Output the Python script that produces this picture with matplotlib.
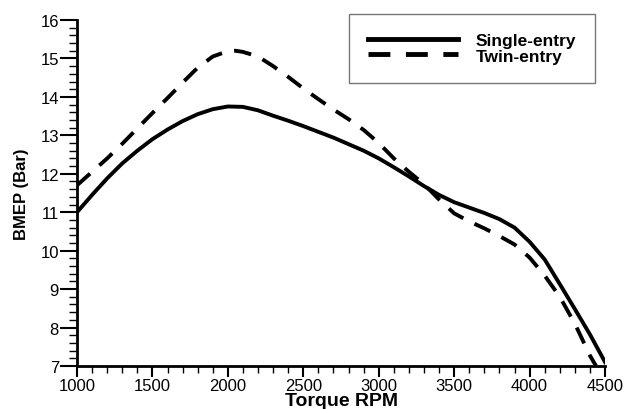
import matplotlib
matplotlib.use("Agg")
import matplotlib.pyplot as plt
from matplotlib.ticker import MultipleLocator

plt.rcParams["font.family"] = ["Liberation Sans", "DejaVu Sans"]

# values
rpm_single = [1000, 1100, 1200, 1300, 1400, 1500, 1600, 1700, 1800, 1900,
              2000, 2100, 2200, 2300, 2400, 2500, 2600, 2700, 2800, 2900,
              3000, 3100, 3200, 3300, 3400, 3500, 3600, 3700, 3800, 3900,
              4000, 4100, 4200, 4300, 4400, 4500]
bmep_single = [11.0, 11.45, 11.88, 12.27, 12.6, 12.9, 13.15, 13.37, 13.55, 13.68,
               13.75, 13.74, 13.65, 13.51, 13.38, 13.24, 13.09, 12.94, 12.77, 12.6,
               12.4, 12.17, 11.93, 11.68, 11.45, 11.26, 11.12, 10.98, 10.82, 10.6,
               10.23, 9.77, 9.13, 8.48, 7.82, 7.1]

rpm_twin = [1000, 1100, 1200, 1300, 1400, 1500, 1600, 1700, 1800, 1900,
            2000, 2050, 2100, 2200, 2300, 2400, 2500, 2600, 2700, 2800,
            2900, 3000, 3100, 3200, 3300, 3400, 3500, 3600, 3700, 3800,
            3900, 4000, 4100, 4200, 4300, 4400, 4440]
bmep_twin = [11.7, 12.05, 12.4, 12.78, 13.18, 13.58, 13.97, 14.37, 14.76, 15.05,
             15.19, 15.2, 15.17, 15.05, 14.8, 14.52, 14.22, 13.94, 13.67, 13.42,
             13.14, 12.8, 12.4, 12.05, 11.73, 11.33, 10.97, 10.76, 10.58, 10.38,
             10.16, 9.82, 9.35, 8.8, 8.1, 7.27, 7.0]

fig = plt.figure(figsize=(6.27, 4.10), dpi=100)
ax = fig.add_axes([0.1228, 0.1049, 0.8422, 0.8439])

ax.plot(rpm_single, bmep_single, color="black", lw=2.8, label="Single-entry")
ax.plot(rpm_twin, bmep_twin, color="black", lw=2.8, dashes=(4.5, 3.2), label="Twin-entry")

ax.set_xlim(1000, 4500)
ax.set_ylim(7, 16)
ax.xaxis.set_major_locator(MultipleLocator(500))
ax.xaxis.set_minor_locator(MultipleLocator(100))
ax.yaxis.set_major_locator(MultipleLocator(1))
ax.yaxis.set_minor_locator(MultipleLocator(0.2))

for side in ("top", "right"):
    ax.spines[side].set_visible(False)
for side in ("left", "bottom"):
    ax.spines[side].set_linewidth(2)

ax.tick_params(axis="y", which="major", length=12, width=1.5, labelsize=12, pad=1)
ax.tick_params(axis="y", which="minor", length=6, width=1)
ax.tick_params(axis="x", which="major", length=8, width=1.5, labelsize=12, pad=1)
ax.tick_params(axis="x", which="minor", length=5, width=1)

ax.set_xlabel("Torque RPM", fontsize=14, fontweight="bold", labelpad=-1)
ax.set_ylabel("BMEP (Bar)", fontsize=12, fontweight="bold", labelpad=8)

leg = ax.legend(loc="upper right", bbox_to_anchor=(0.949, 0.963),
                bbox_transform=fig.transFigure,
                prop={"weight": "bold", "size": 12.5}, frameon=True, fancybox=False,
                handlelength=5.2, borderpad=1.1, labelspacing=0.0,
                borderaxespad=0, handletextpad=1.0)
leg.get_frame().set_edgecolor("#555555")
leg.get_frame().set_linewidth(1)
for line in leg.get_lines():
    line.set_linewidth(3.5)

fig.savefig("out.png", dpi=100)
